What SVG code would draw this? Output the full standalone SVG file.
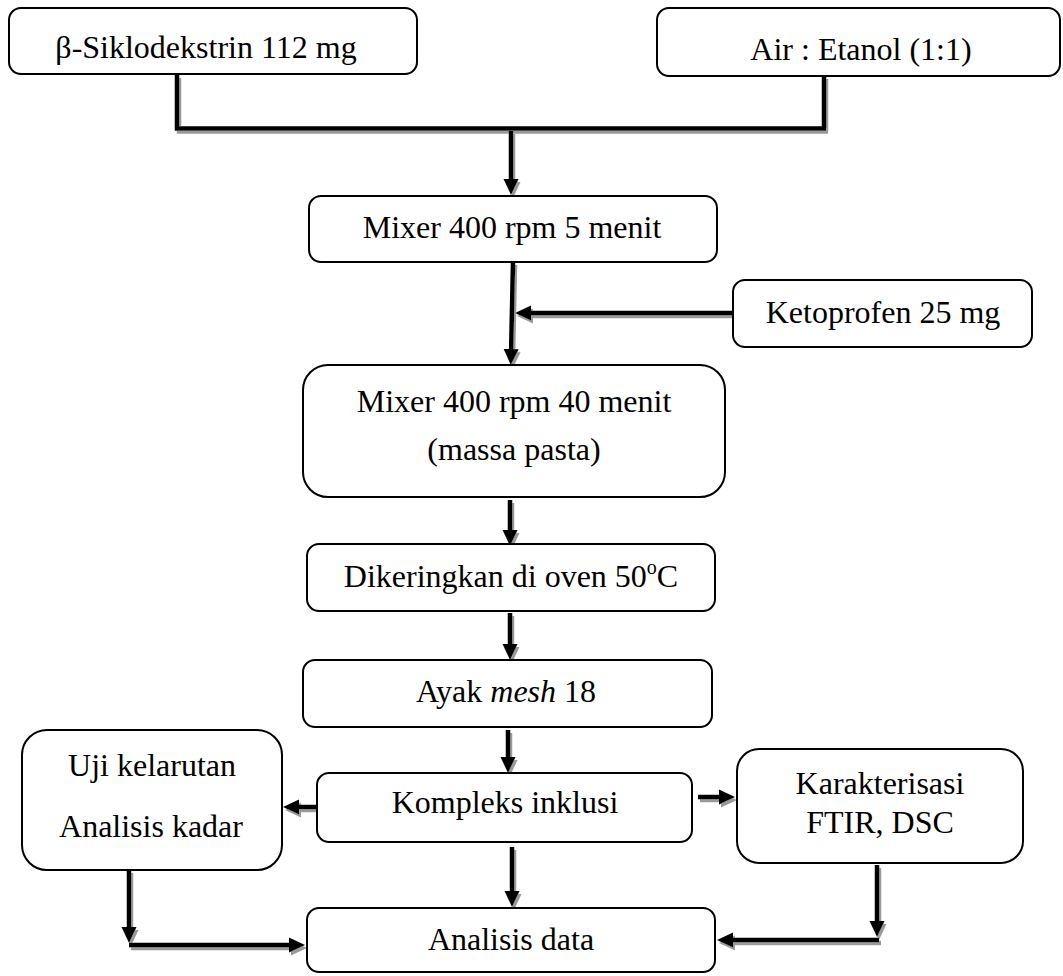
<svg xmlns="http://www.w3.org/2000/svg" width="1063" height="976" viewBox="0 0 1063 976">
<style>
.box{fill:#fff;stroke:#000;stroke-width:2}
.t{font-family:"Liberation Serif","Times New Roman",serif;font-size:32px;fill:#000;text-anchor:middle}
.c{fill:none;stroke:#000;stroke-width:4.5;stroke-linejoin:miter}
</style>
<defs>
<marker id="ah" markerUnits="userSpaceOnUse" markerWidth="16" markerHeight="16" viewBox="0 0 16 16" refX="6" refY="8" orient="auto">
<path d="M0,0.5 L16,8 L0,15.5 Z" fill="#000"/>
</marker>
<filter id="sh" filterUnits="userSpaceOnUse" x="0" y="0" width="1063" height="976">
<feOffset in="SourceAlpha" dx="2" dy="3" result="o"/>
<feFlood flood-color="#9a9a9a"/>
<feComposite in2="o" operator="in"/>
<feMerge><feMergeNode/><feMergeNode in="SourceGraphic"/></feMerge>
</filter>
</defs>
<g id="connectors" filter="url(#sh)">
<path class="c" d="M177,75 V128.5 H826 M824,76 V128.5" stroke-width="5"/>
<path class="c" d="M511,131 V185" marker-end="url(#ah)"/>
<path class="c" d="M513,262 L511,355" marker-end="url(#ah)"/>
<path class="c" d="M733,313 H525" stroke-width="5" marker-end="url(#ah)"/>
<path class="c" d="M510,500 V536" marker-end="url(#ah)"/>
<path class="c" d="M510,613 V650" marker-end="url(#ah)"/>
<path class="c" d="M508,730 V763" marker-end="url(#ah)"/>
<path class="c" d="M512,847 V897" marker-end="url(#ah)"/>
<path class="c" d="M317,807 H293" stroke-width="5" marker-end="url(#ah)"/>
<path class="c" d="M698,797 H725" stroke-width="5" marker-end="url(#ah)"/>
<path class="c" d="M129,870 V933" marker-end="url(#ah)"/>
<path class="c" d="M129,945 H295" stroke-width="5" marker-end="url(#ah)"/>
<path class="c" d="M877,865 V927" marker-end="url(#ah)"/>
<path class="c" d="M879,940 H727" stroke-width="5" marker-end="url(#ah)"/>
</g>
<g id="n_siklodekstrin">
<rect class="box" x="9" y="8" width="408" height="66" rx="12"/>
<text class="t" x="206" y="58">β-Siklodekstrin 112 mg</text>
</g>
<g id="n_air_etanol">
<rect class="box" x="657" y="8" width="403" height="68" rx="12"/>
<text class="t" x="861" y="60">Air : Etanol (1:1)</text>
</g>
<g id="n_mixer5">
<rect class="box" x="309" y="196" width="408" height="66" rx="12"/>
<text class="t" x="512" y="238">Mixer 400 rpm 5 menit</text>
</g>
<g id="n_ketoprofen">
<rect class="box" x="733" y="280" width="299" height="67" rx="12"/>
<text class="t" x="883" y="323">Ketoprofen 25 mg</text>
</g>
<g id="n_mixer40">
<rect class="box" x="303" y="365" width="422" height="132" rx="25"/>
<text class="t" x="514" y="412">Mixer 400 rpm 40 menit</text>
<text class="t" x="514" y="460">(massa pasta)</text>
</g>
<g id="n_oven">
<rect class="box" x="307" y="544" width="408" height="67" rx="12"/>
<text class="t" x="511" y="587">Dikeringkan di oven 50<tspan font-size="20" dy="-13">o</tspan><tspan dy="13">C</tspan></text>
</g>
<g id="n_ayak">
<rect class="box" x="303" y="660" width="409" height="67" rx="12"/>
<text class="t" x="506" y="702">Ayak <tspan font-style="italic">mesh</tspan> 18</text>
</g>
<g id="n_kompleks">
<rect class="box" x="317" y="773" width="375" height="69" rx="12"/>
<text class="t" x="505" y="813" font-size="29">Kompleks inklusi</text>
</g>
<g id="n_analisis_data">
<rect class="box" x="307" y="908" width="408" height="64" rx="12"/>
<text class="t" x="511" y="950">Analisis data</text>
</g>
<g id="n_uji">
<rect class="box" x="22" y="730" width="260" height="140" rx="25"/>
<text class="t" x="152" y="776">Uji kelarutan</text>
<text class="t" x="151" y="837">Analisis kadar</text>
</g>
<g id="n_karakterisasi">
<rect class="box" x="737" y="749" width="286" height="114" rx="22"/>
<text class="t" x="880" y="794">Karakterisasi</text>
<text class="t" x="880" y="833">FTIR, DSC</text>
</g>
</svg>
